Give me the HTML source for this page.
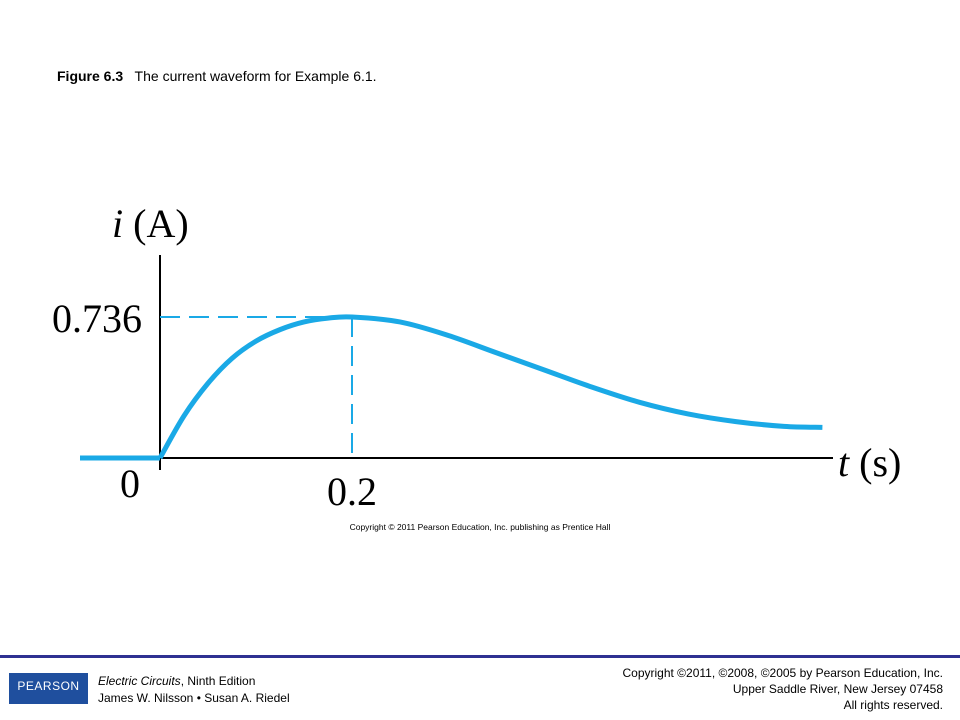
<!DOCTYPE html>
<html><head><meta charset="utf-8"><style>
body{margin:0;width:960px;height:720px;background:#fff;position:relative;overflow:hidden;font-family:"Liberation Sans",sans-serif}
.t{position:absolute;white-space:nowrap}
</style></head><body>
<div class="t" style="left:57px;top:68px;font-size:14px;color:#000"><b>Figure 6.3</b>&nbsp;&nbsp; The current waveform for Example 6.1.</div>
<svg width="960" height="720" style="position:absolute;left:0;top:0">
<g id="g"></g>
<text x="112" y="237" font-family="Liberation Serif" font-size="40"><tspan font-style="italic">i</tspan> (A)</text>
<text x="838" y="476" font-family="Liberation Serif" font-size="40"><tspan font-style="italic">t</tspan> (s)</text>
<text x="480" y="530" text-anchor="middle" font-family="Liberation Sans" font-size="8.5">Copyright © 2011 Pearson Education, Inc. publishing as Prentice Hall</text>
</svg>
<div style="position:absolute;left:0;top:655px;width:960px;height:3px;background:#2e3192"></div>
<div style="position:absolute;left:9px;top:673px;width:79px;height:31px;background:#1f4f9e;color:#fff;font-size:12px;text-align:center;line-height:26px;letter-spacing:0.5px">PEARSON</div>
<div class="t" style="left:98px;top:673px;font-size:12px;line-height:17px;color:#000"><i>Electric Circuits</i>, Ninth Edition<br>James W. Nilsson • Susan A. Riedel</div>
<div class="t" style="right:17px;top:665px;font-size:12px;line-height:16px;text-align:right;color:#000">Copyright ©2011, ©2008, ©2005 by Pearson Education, Inc.<br>Upper Saddle River, New Jersey 07458<br>All rights reserved.</div>
<script>
const times=[0,0.025,0.05,0.075,0.1,0.125,0.15,0.175,0.2,0.25,0.3,0.35,0.4,0.45,0.5,0.55,0.6,0.65,0.69];
const currents=[0,0.22,0.39,0.52,0.61,0.67,0.71,0.73,0.736,0.71,0.64,0.55,0.46,0.37,0.29,0.23,0.19,0.165,0.16];
const peakT=0.2, peakI=0.736;
const yTicks=["0.736"], xTicks=["0.2"];
const X=t=>160+t*960, Y=v=>458-v*191.6;
const NS="http://www.w3.org/2000/svg", g=document.getElementById('g');
function mk(tag,a){const e=document.createElementNS(NS,tag);for(const k in a)e.setAttribute(k,a[k]);g.appendChild(e);return e;}
let e;
e=mk('line',{x1:X(0),y1:255,x2:X(0),y2:470,stroke:'#000','stroke-width':2});


e=mk('line',{x1:X(0),y1:Y(0),x2:833,y2:Y(0),stroke:'#000','stroke-width':2});


e=mk('line',{x1:X(0),y1:Y(peakI),x2:X(peakT),y2:Y(peakI),stroke:'#1aa9e6','stroke-width':2,'stroke-dasharray':'20,9'});


e=mk('line',{x1:X(peakT),y1:Y(peakI),x2:X(peakT),y2:Y(0),stroke:'#1aa9e6','stroke-width':2,'stroke-dasharray':'20,9'});


e=mk('line',{x1:80,y1:Y(0),x2:X(0),y2:Y(0),stroke:'#1aa9e6','stroke-width':5});


// smooth path via Catmull-Rom
const P=times.map((t,i)=>[X(t),Y(currents[i])]);
let d='M'+P[0][0]+','+P[0][1];
for(let i=0;i<P.length-1;i++){const p0=P[Math.max(0,i-1)],p1=P[i],p2=P[i+1],p3=P[Math.min(P.length-1,i+2)];
d+=` C${p1[0]+(p2[0]-p0[0])/6},${p1[1]+(p2[1]-p0[1])/6} ${p2[0]-(p3[0]-p1[0])/6},${p2[1]-(p3[1]-p1[1])/6} ${p2[0]},${p2[1]}`;}
e=mk('path',{d:d,fill:'none',stroke:'#1aa9e6','stroke-width':5,'stroke-linejoin':'round'});


e=mk('text',{x:142,y:Y(peakI)+15,'text-anchor':'end','font-family':'Liberation Serif','font-size':40});
e.textContent=yTicks[0];


e=mk('text',{x:X(peakT),y:505,'text-anchor':'middle','font-family':'Liberation Serif','font-size':40});
e.textContent=xTicks[0];


e=mk('text',{x:130,y:497,'text-anchor':'middle','font-family':'Liberation Serif','font-size':40});
e.textContent='0';


</script>
</body></html>
